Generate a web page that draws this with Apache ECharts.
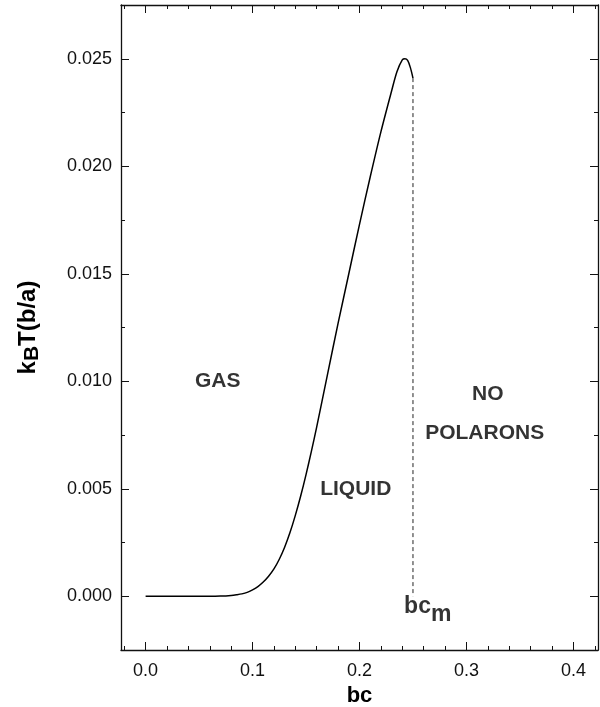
<!DOCTYPE html>
<html>
<head>
<meta charset="utf-8">
<title>Polaron phase diagram</title>
<script src="https://cdn.jsdelivr.net/npm/echarts@6/dist/echarts.min.js"></script>
<style>
  html, body { margin: 0; padding: 0; background: #fff; }
  #chart { width: 600px; height: 707px; }
</style>
</head>
<body>
<div id="chart"></div>
<script>
// 相界曲线 (bc, kBT)
const bcValues = [0, 0.02, 0.04, 0.06, 0.07, 0.08, 0.085, 0.09, 0.095, 0.10, 0.105, 0.11, 0.115,
  0.12, 0.125, 0.13, 0.135, 0.14, 0.145, 0.15, 0.155, 0.16, 0.17, 0.18, 0.19, 0.20, 0.21, 0.22,
  0.23, 0.235, 0.24, 0.2425, 0.245, 0.2475, 0.25];
const tempValues = [0, 0, 0, 0, 0.00001, 0.00004, 0.00007, 0.00011, 0.00018, 0.0003, 0.00045, 0.00066, 0.00093,
  0.00127, 0.00172, 0.00228, 0.00296, 0.00376, 0.00466, 0.00566, 0.00674, 0.00788, 0.0103, 0.0127, 0.0150, 0.0173,
  0.0195, 0.0216, 0.0235, 0.0244, 0.02495, 0.0250, 0.02492, 0.0246, 0.0241];

// bc_m 处的竖直虚线
const bcM = 0.25;
const dashTop = 0.0241;

// 区域标注
const regionNames = ['GAS', 'LIQUID', 'NO', 'POLARONS'];
const regionX = [0.0675, 0.1965, 0.32, 0.317];
const regionY = [0.0100, 0.0050, 0.0094, 0.0076];

// bc_m 标注位置
const bcmLabelX = 0.2638;
const bcmLabelY = -0.00065;

// 刻度
const xTicks = [0, 0.1, 0.2, 0.3, 0.4];
const xMinor = [-0.02, 0.02, 0.04, 0.06, 0.08, 0.12, 0.14, 0.16, 0.18, 0.22, 0.24, 0.26, 0.28,
  0.32, 0.34, 0.36, 0.38, 0.42];
const yTicks = [0, 0.005, 0.010, 0.015, 0.020, 0.025];
const yMinor = [0.0025, 0.0075, 0.0125, 0.0175, 0.0225];

const X_MIN = -0.023, X_MAX = 0.423;
const Y_MIN = -0.0025, Y_MAX = 0.0275;

const chart = echarts.init(document.getElementById('chart'));

const lineColor = '#111';
const font = '"Liberation Sans", Arial, Helvetica, sans-serif';

function xAxisDef(pos, ticks, len, withLabel, withLine) {
    return {
        type: 'value', position: pos, min: X_MIN, max: X_MAX,
        axisLine: { show: withLine, onZero: false, lineStyle: { color: lineColor, width: 1.3 } },
        axisTick: { show: true, inside: true, length: len, customValues: ticks,
            lineStyle: { color: lineColor, width: 1 } },
        axisLabel: withLabel ? {
            show: true, customValues: ticks, margin: 12,
            color: '#111', fontSize: 18, fontFamily: font,
            formatter: v => v.toFixed(1)
        } : { show: false },
        splitLine: { show: false }
    };
}

function yAxisDef(pos, ticks, len, withLabel, withLine) {
    return {
        type: 'value', position: pos, min: Y_MIN, max: Y_MAX,
        axisLine: { show: withLine, onZero: false, lineStyle: { color: lineColor, width: 1.3 } },
        axisTick: { show: true, inside: true, length: len, customValues: ticks,
            lineStyle: { color: lineColor, width: 1 } },
        axisLabel: withLabel ? {
            show: true, customValues: ticks, margin: 9,
            color: '#111', fontSize: 18, fontFamily: font,
            formatter: v => v.toFixed(3)
        } : { show: false },
        splitLine: { show: false }
    };
}

const xAxes = [
    xAxisDef('bottom', xTicks, 8, true, true),
    xAxisDef('bottom', xMinor, 4, false, false),
    xAxisDef('top', xTicks, 8, false, true),
    xAxisDef('top', xMinor, 4, false, false)
];
Object.assign(xAxes[0], {
    name: 'bc', nameLocation: 'middle', nameGap: 31,
    nameTextStyle: { color: '#000', fontSize: 22, fontWeight: 'bold', fontFamily: font }
});

const yAxes = [
    yAxisDef('left', yTicks, 8, true, true),
    yAxisDef('left', yMinor, 4, false, false),
    yAxisDef('right', yTicks, 8, false, true),
    yAxisDef('right', yMinor, 4, false, false)
];
Object.assign(yAxes[0], {
    name: '{m|k}{s|B}{m|T(b/a)}', nameLocation: 'middle', nameGap: 78, nameRotate: 90,
    nameTextStyle: {
        color: '#000', fontFamily: font,
        rich: {
            m: { fontSize: 24, fontWeight: 'bold', fontFamily: font, color: '#000', lineHeight: 24, verticalAlign: 'top' },
            s: { fontSize: 21, fontWeight: 'bold', fontFamily: font, color: '#000', lineHeight: 27, verticalAlign: 'bottom' }
        }
    }
});

const option = {
    backgroundColor: '#fff',
    animation: false,
    grid: { left: 121, right: 2, top: 5, bottom: 57, containLabel: false, outerBoundsMode: 'none' },
    xAxis: xAxes,
    yAxis: yAxes,
    series: [
        {
            name: 'boundary',
            type: 'line',
            data: bcValues.map((b, i) => [b, tempValues[i]]),
            smooth: 0.3,
            showSymbol: false,
            lineStyle: { color: '#000', width: 1.5 }
        },
        {
            name: 'bcm',
            type: 'line',
            data: [[bcM, dashTop], [bcM, 0]],
            showSymbol: false,
            lineStyle: { color: '#222', width: 1, type: [4, 3] }
        },
        {
            name: 'regions',
            type: 'scatter',
            symbolSize: 0,
            data: regionNames.map((n, i) => ({ name: n, value: [regionX[i], regionY[i]] })),
            label: {
                show: true, position: 'inside', formatter: p => p.name,
                color: '#000', fontSize: 21, fontWeight: 'bold', fontFamily: font
            }
        },
        {
            name: 'bcmLabel',
            type: 'scatter',
            symbolSize: 0,
            data: [{ value: [bcmLabelX, bcmLabelY] }],
            label: {
                show: true, position: 'inside',
                formatter: '{m|bc}{s|m}',
                rich: {
                    m: { fontSize: 23, fontWeight: 'bold', fontFamily: font, color: '#000', lineHeight: 23, verticalAlign: 'top' },
                    s: { fontSize: 23, fontWeight: 'bold', fontFamily: font, color: '#000', lineHeight: 31, verticalAlign: 'bottom' }
                }
            }
        }
    ]
};

chart.setOption(option);
window.addEventListener('resize', () => chart.resize());
</script>
</body>
</html>
